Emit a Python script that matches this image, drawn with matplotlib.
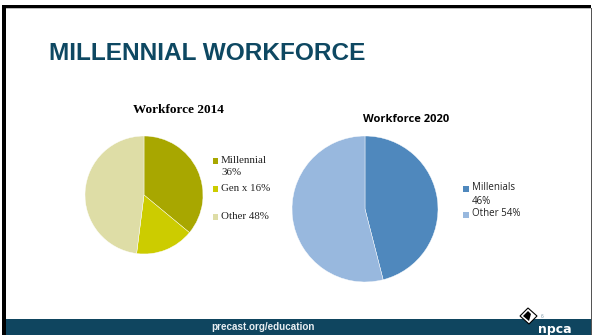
import matplotlib.pyplot as plt
from matplotlib.patches import Rectangle, Polygon

W, H = 592, 335

# workforce shares
names_2014 = ["Millennial", "Gen x", "Other"]
share_2014 = [36, 16, 48]
colors_2014 = ["#A8A700", "#CCCC00", "#DEDDA6"]

names_2020 = ["Millenials", "Other"]
share_2020 = [46, 54]
colors_2020 = ["#4F88BD", "#98B8DE"]


def px(x, y):
    # pixel position -> figure fraction
    return x / W, 1 - y / H


def box(x0, y0, x1, y1):
    return [x0 / W, 1 - y1 / H, (x1 - x0) / W, (y1 - y0) / H]


fig = plt.figure(figsize=(W / 100, H / 100), dpi=100)
fig.patch.set_facecolor("white")

# slide frame
fig.patches.append(Rectangle(px(2, 8), 589 / W, 3 / H, transform=fig.transFigure,
                             facecolor="black", edgecolor="none"))
fig.patches.append(Rectangle(px(2, 335), 4 / W, 327 / H, transform=fig.transFigure,
                             facecolor="black", edgecolor="none"))
fig.patches.append(Rectangle(px(590.5, 335), 1 / W, 327 / H, transform=fig.transFigure,
                             facecolor="#555555", edgecolor="none"))
fig.patches.append(Rectangle(px(6, 9), 585 / W, 1 / H, transform=fig.transFigure,
                             facecolor="#BBBBBB", edgecolor="none"))

# footer band
fig.patches.append(Rectangle(px(6, 335), 585 / W, 16 / H, transform=fig.transFigure,
                             facecolor="#0F455F", edgecolor="none"))
fig.text(*px(263, 327.5), "precast.org/education", ha="center", va="center",
         color="#E8EEF2", fontsize=7.1, fontweight="bold", family="Liberation Sans")

# npca logo
diamond = Polygon([px(520, 316), px(528, 308), px(537, 316), px(529, 324)],
                  closed=True, transform=fig.transFigure,
                  facecolor="white", edgecolor="black", lw=0.8)
fig.patches.append(diamond)
half = Polygon([px(523, 316), px(528, 311), px(531, 314), px(529, 321)],
               closed=True, transform=fig.transFigure,
               facecolor="black", edgecolor="none")
fig.patches.append(half)
fig.text(*px(555, 329), "npca", ha="center", va="center", color="white",
         fontsize=9, fontweight="bold", family="DejaVu Sans")
fig.text(*px(542, 317), "6", ha="center", va="center", color="#7F9AAA",
         fontsize=3.5, family="Liberation Sans")

# slide title
fig.text(*px(49, 53), "MILLENNIAL WORKFORCE", ha="left", va="center",
         color="#0E4862", fontsize=17.6, fontweight="bold", family="Liberation Sans")

# 2014 pie
ax1 = fig.add_axes(box(85, 136, 203, 254))
ax1.pie(share_2014, colors=colors_2014, startangle=90, counterclock=False,
        wedgeprops=dict(linewidth=0.3, edgecolor="white"))
ax1.set_xlim(-1, 1)
ax1.set_ylim(-1, 1)
ax1.set_aspect("equal")
ax1.axis("off")
fig.text(*px(178, 110), "Workforce 2014", ha="center", va="center",
         fontsize=9.5, fontweight="bold", family="Liberation Serif")

legend_y_2014 = [161, 189, 217]
for name, val, col, ly in zip(names_2014, share_2014, colors_2014, legend_y_2014):
    fig.patches.append(Rectangle(px(213, ly + 2.5), 5.5 / W, 5.5 / H, transform=fig.transFigure,
                                 facecolor=col, edgecolor="none"))
    label = f"{name}\n{val}%" if name == "Millennial" else f"{name} {val}%"
    fig.text(*px(221, ly - 5), label, ha="left", va="top", fontsize=7.8,
             family="Liberation Serif", color="#222222", linespacing=1.45)

# 2020 pie
ax2 = fig.add_axes(box(292, 136, 438, 282))
ax2.pie(share_2020, colors=colors_2020, startangle=90, counterclock=False,
        wedgeprops=dict(linewidth=0.3, edgecolor="white"))
ax2.set_xlim(-1, 1)
ax2.set_ylim(-1, 1)
ax2.set_aspect("equal")
ax2.axis("off")
fig.text(*px(406, 120), "Workforce 2020", ha="center", va="center",
         fontsize=8, fontweight="bold", family="Open Sans")

legend_y_2020 = [189, 215]
for name, val, col, ly in zip(names_2020, share_2020, colors_2020, legend_y_2020):
    fig.patches.append(Rectangle(px(463, ly + 3), 6 / W, 6 / H, transform=fig.transFigure,
                                 facecolor=col, edgecolor="none"))
    label = f"{name}\n{val}%" if name == "Millenials" else f"{name} {val}%"
    fig.text(*px(472, ly - 6.5), label, ha="left", va="top", fontsize=7,
             family="Open Sans", color="#222222", linespacing=1.35)

fig.savefig("out.png", dpi=100)
